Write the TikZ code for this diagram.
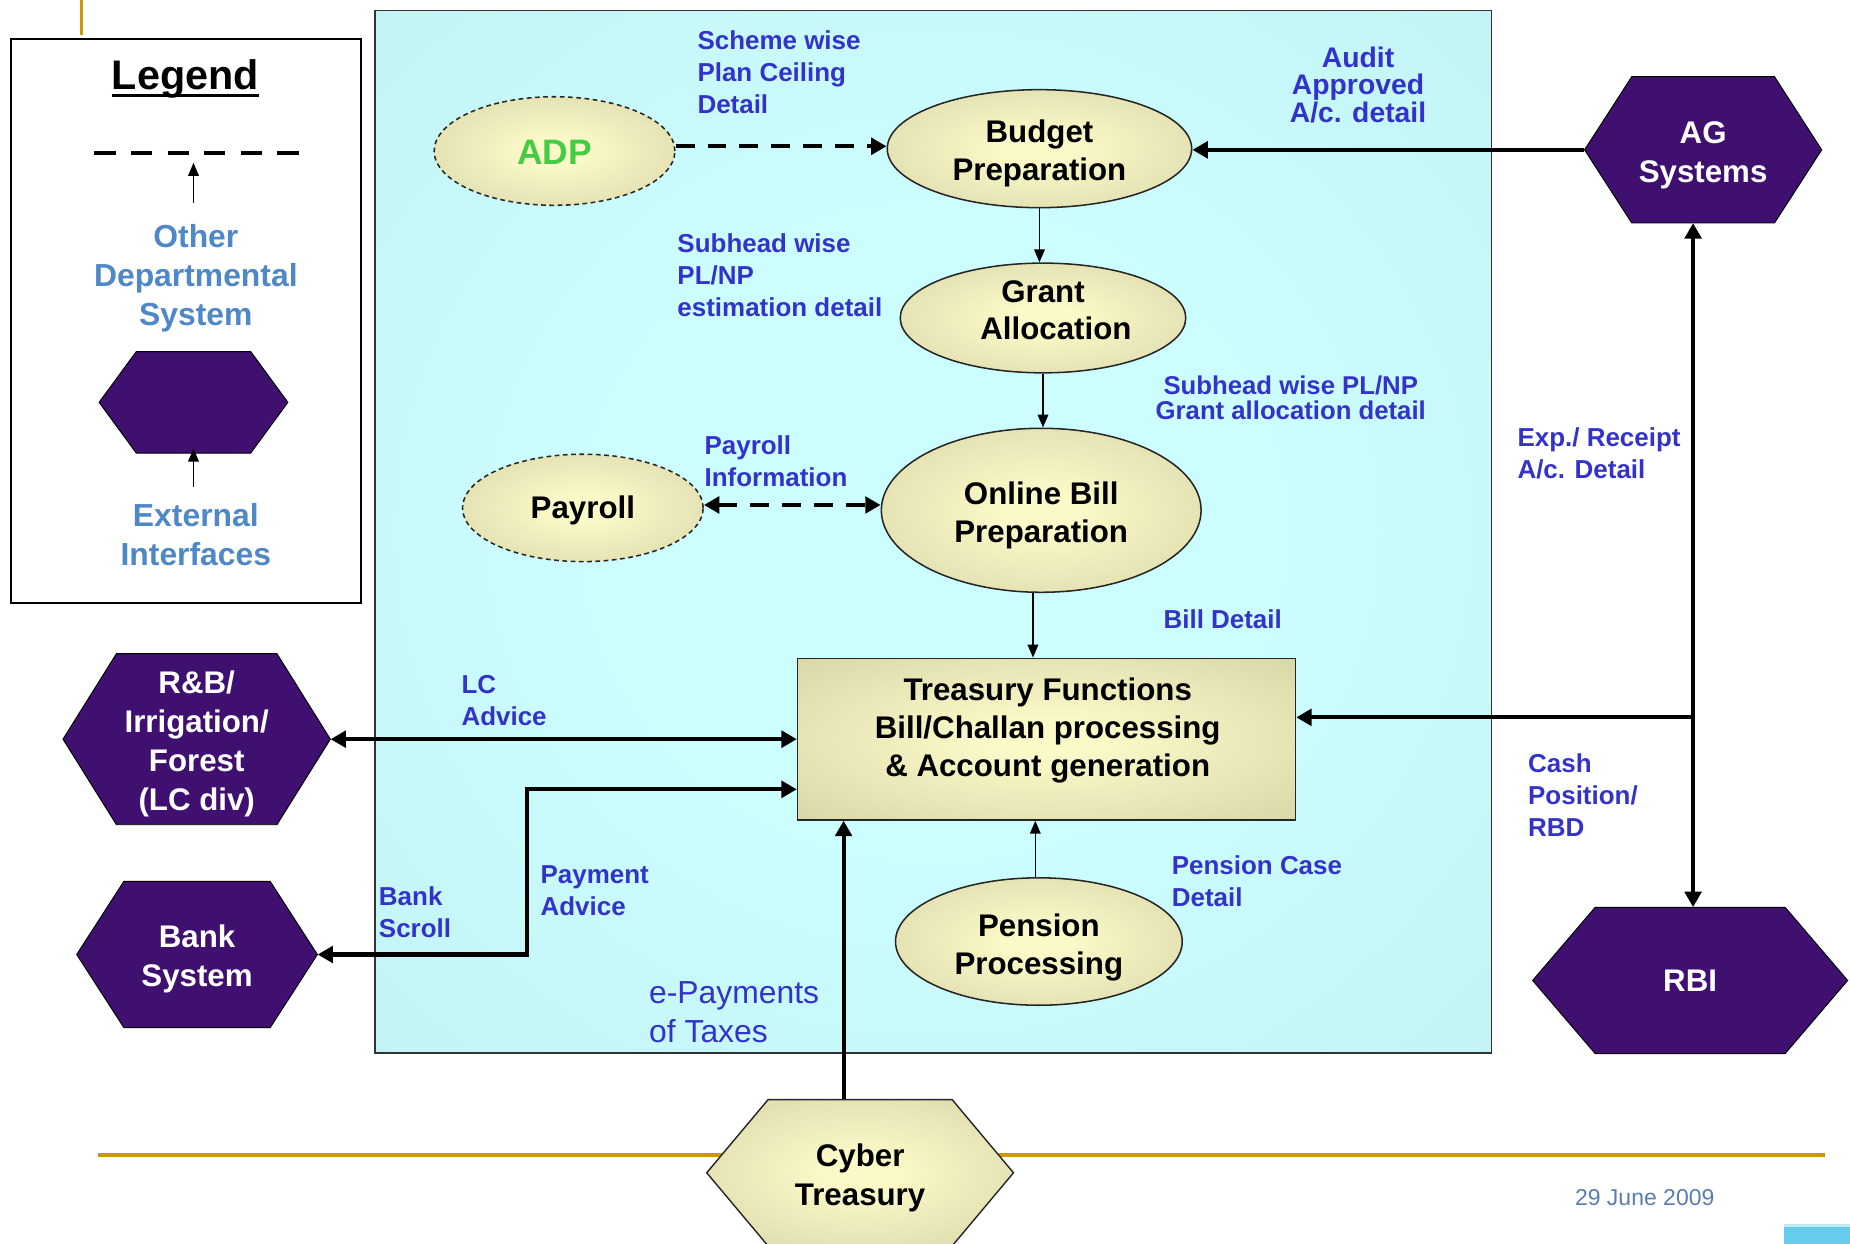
\documentclass[tikz,border=0pt]{standalone}
\usepackage{fontspec}
\setmainfont{Liberation Sans}
\usetikzlibrary{arrows.meta,shapes.geometric,calc}
\definecolor{tanin}{HTML}{FCF9C8}
\definecolor{tanout}{HTML}{CFCDA0}
\definecolor{cyanin}{HTML}{CCFEFF}
\definecolor{cyanout}{HTML}{BDEDED}
\definecolor{purp}{HTML}{3F1070}
\definecolor{lblblue}{HTML}{3333CC}
\definecolor{legblue}{HTML}{4F88C6}
\definecolor{gold}{HTML}{CC9900}
\definecolor{adpgreen}{HTML}{44CC44}
\definecolor{datecol}{HTML}{5A7DB5}
\definecolor{cornerblue}{HTML}{66CCEE}
\pgfdeclareradialshading{tanshade}{\pgfpoint{0bp}{0bp}}{color(0bp)=(tanin); color(6bp)=(tanin); color(44bp)=(tanout); color(50bp)=(tanout)}
\pgfdeclareradialshading{cyanshade}{\pgfpoint{0bp}{0bp}}{color(0bp)=(cyanin); color(15bp)=(cyanin); color(50bp)=(cyanout)}
\newcommand{\hexdraw}[6]{\path[#6] ({#1-#3},#2) -- ({#1-#4},{#2-#5}) -- ({#1+#4},{#2-#5}) -- ({#1+#3},#2) -- ({#1+#4},{#2+#5}) -- ({#1-#4},{#2+#5}) -- cycle;}
\begin{document}
\begin{tikzpicture}[x=1pt,y=-1pt,
  >={Triangle[length=13pt,width=14pt]},
  purphex/.style={fill=purp, draw=black, line width=0.8pt},
  tanhex/.style={shading=tanshade, draw=black!85, line width=1.2pt},
  hexbox/.style={inner sep=0},
  hexlbl/.style={inner sep=0, text=white, font=\bfseries\fontsize{26.5}{33}\selectfont, align=center},
  tanell/.style={ellipse, draw=black!85, line width=1.3pt, shading=tanshade, inner sep=0},
  dashell/.style={dash pattern=on 4pt off 3pt},
  nodetxt/.style={inner sep=0, font=\bfseries\fontsize{26.5}{32}\selectfont, align=center},
  lbl/.style={inner sep=0, anchor=west, align=left, text=lblblue, font=\bfseries\fontsize{22}{27}\selectfont},
  legtxt/.style={inner sep=0, align=center, text=legblue, font=\bfseries\fontsize{27}{33}\selectfont},
  tconn/.style={line width=3.5pt, ->},
  tdconn/.style={line width=3.5pt, <->},
  nconn/.style={line width=1.4pt, -{Triangle[length=11pt,width=9pt]}},
  dconn/.style={line width=3.5pt, dash pattern=on 16pt off 11pt, ->},
  legarrow/.style={line width=1.4pt, -{Triangle[length=11pt,width=9pt]}}
]
\useasboundingbox (0,0) rectangle (1568,1054);
\fill[white] (0,0) rectangle (1568,1054);

% decorative gold lines
\draw[gold, line width=3pt] (69,0) -- (69,30);
\draw[gold, line width=3pt] (83,979) -- (1547,979);

% legend
\node[draw=black, line width=1.5pt, minimum width=297, minimum height=478, inner sep=0] (legend) at (157.5,272) {};
\node[inner sep=0, font=\bfseries\fontsize{35}{40}\selectfont] (legtitle) at (157,67) {Legend};
\draw[line width=2.4pt] ($(legtitle.base west)+(0,5)$) -- ($(legtitle.base east)+(0,5)$);
\coordinate (ld1) at (80,130);
\coordinate (ld2) at (255,130);
\draw[line width=3.5pt, dash pattern=on 18pt off 13pt] (ld1) -- (ld2);
\node[legtxt] (other) at (166,236) {Other\\Departmental\\System};
\draw[legarrow, shorten >=8pt] ([xshift=-2pt,yshift=18pt]other.north) -- ([xshift=-2pt]other.north |- ld1);
\hexdraw{164}{341}{80}{48.5}{43}{purphex}
\node[hexbox, minimum width=160, minimum height=86] (lhex) at (164,341) {};
\node[legtxt] (ext) at (166,453.5) {External\\Interfaces};
\draw[legarrow, shorten >=-4pt] ([xshift=-2pt,yshift=14pt]ext.north) -- ([xshift=-2pt]ext.north |- lhex.south);

% main box
\node[draw=black!80, line width=1.2pt, shading=cyanshade, minimum width=946, minimum height=883.5, inner sep=0] (main) at (791,450.75) {};

% process nodes
\node[tanell, dashell, minimum width=204, minimum height=92] (adp) at (470,128) {};
\node[nodetxt, text=adpgreen, font=\bfseries\fontsize{30}{34}\selectfont] (adptxt) at (470,129) {ADP};
\node[tanell, minimum width=258, minimum height=100] (bud) at (881,126) {};
\node[nodetxt] (budtxt) at (881,130) {Budget\\Preparation};
\node[tanell, minimum width=242, minimum height=93] (gr) at (884,269.5) {};
\node[nodetxt] (grtxt) at (884,263) {Grant\\\hspace*{22pt}Allocation};
\node[tanell, minimum width=271, minimum height=139] (ob) at (882.5,432.5) {};
\node[nodetxt] (obtxt) at (882.5,437) {Online Bill\\Preparation};
\node[tanell, dashell, minimum width=204, minimum height=91] (pay) at (494,430.5) {};
\node[nodetxt] (paytxt) at (494,432.5) {Payroll};
\node[tanell, minimum width=243, minimum height=108] (pen) at (880.5,798) {};
\node[nodetxt] (pentxt) at (880.5,803) {Pension\\Processing};
\node[draw=black!85, line width=1.3pt, shading=tanshade, minimum width=422, minimum height=137, inner sep=0] (treas) at (887,626.5) {};
\node[nodetxt] (treastxt) at (888,619) {Treasury Functions\\Bill/Challan processing\\\& Account generation};

% external interfaces
\hexdraw{1443.5}{127}{100.5}{60.5}{62}{purphex}
\node[hexbox, minimum width=201, minimum height=124] (ag) at (1443.5,127) {};
\node[hexlbl] (agtxt) at (1443.5,132) {AG\\Systems};
\hexdraw{1432.5}{831}{133.5}{80.5}{62}{purphex}
\node[hexbox, minimum width=267, minimum height=124] (rbi) at (1432.5,831) {};
\node[hexlbl] (rbitxt) at (1432.5,831) {RBI};
\hexdraw{166.7}{626.5}{113.3}{68}{72.5}{purphex}
\node[hexbox, minimum width=226.6, minimum height=145] (rb) at (166.7,626.5) {};
\node[hexlbl] (rbtxt) at (166.7,630.5) {R\&B/\\Irrigation/\\Forest\\(LC div)};
\hexdraw{167}{809}{102}{62}{62}{purphex}
\node[hexbox, minimum width=204, minimum height=124] (bank) at (167,809) {};
\node[hexlbl] (banktxt) at (167,813) {Bank\\System};
\hexdraw{729}{994}{130}{78}{62}{tanhex}
\node[hexbox, minimum width=260, minimum height=124] (cy) at (729,994) {};
\node[hexlbl, text=black] (cytxt) at (729,998.5) {Cyber\\Treasury};

% connectors
\draw[dconn] ([yshift=4pt]adp.east) -- ([yshift=4pt]adp.east -| bud.west);
\draw[tconn] (ag.west) -- (ag.west -| bud.east);
\draw[nconn] (bud.south) -- (bud.south |- gr.north);
\draw[nconn] (gr.south) -- (gr.south |- ob.north);
\draw[dconn, <->] ([yshift=2.5pt]pay.east) -- ([yshift=2.5pt]pay.east -| ob.west);
\draw[nconn] ([xshift=-7pt]ob.south) -- ([xshift=-7pt]ob.south |- treas.north);
\coordinate (agb) at ([xshift=-8.5pt]ag.south);
\draw[tdconn] (agb) -- (agb |- rbi.north);
\coordinate (jn) at (1435,608);
\draw[tconn] (jn) -- (jn -| treas.east);
\draw[tdconn] (rb.east) -- (treas.west);
\coordinate (bend) at (447,669);
\draw[tdconn] (bank.east) -| (bend) -- (bend -| treas.west);
\draw[tconn] ([xshift=-14pt]cy.north) -- ([xshift=-14pt]cy.north |- treas.south);
\draw[nconn] ([xshift=-3pt]pen.north) -- ([xshift=-3pt]pen.north |- treas.south);

% labels
\node[lbl] (l1) at (591,61) {Scheme wise\\Plan Ceiling\\Detail};
\node[lbl, align=center, anchor=center, font=\bfseries\fontsize{24}{23}\selectfont] (l2) at (1151,72) {Audit\\Approved\\A/c. detail};
\node[lbl] (l3) at (574,233) {Subhead wise\\PL/NP\\estimation detail};
\node[lbl, align=center, anchor=center, font=\bfseries\fontsize{21.8}{21}\selectfont] (l4) at (1094,337) {Subhead wise PL/NP\\Grant allocation detail};
\node[lbl] (l5) at (597,391) {Payroll\\Information};
\node[lbl] (l6) at (986,525) {Bill Detail};
\node[lbl] (l7) at (391,594) {LC\\Advice};
\node[lbl] (l8) at (458,755) {Payment\\Advice};
\node[lbl] (l9) at (321,773) {Bank\\Scroll};
\node[lbl, font=\fontsize{27}{33}\selectfont] (l10) at (550,858) {e-Payments\\of Taxes};
\node[lbl] (l11) at (993,747) {Pension Case\\Detail};
\node[lbl] (l12) at (1286,384) {Exp./ Receipt\\A/c. Detail};
\node[lbl] (l13) at (1295,674) {Cash\\Position/\\RBD};

% footer
\node[inner sep=0, text=datecol, font=\fontsize{19.5}{22}\selectfont] (date) at (1394,1015) {29 June 2009};
\fill[cornerblue] (1512,1037) rectangle (1568,1054);
\fill[cornerblue!40] (1512,1037) rectangle (1568,1040);
\end{tikzpicture}
\end{document}
